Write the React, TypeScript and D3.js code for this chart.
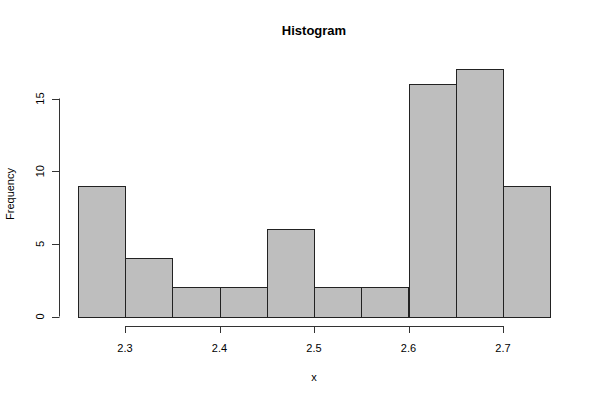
import React from "react";
import * as d3 from "d3";

const binStarts = [2.25, 2.3, 2.35, 2.4, 2.45, 2.5, 2.55, 2.6, 2.65, 2.7];
const binWidth = 0.05;
const counts = [9, 4, 2, 2, 6, 2, 2, 16, 17, 9];
const xTicks = [2.3, 2.4, 2.5, 2.6, 2.7];
const yTicks = [0, 5, 10, 15];
const title = "Histogram";
const xLabel = "x";
const yLabel = "Frequency";

export default function App() {
  const W = 600, H = 400;
  const x = d3.scaleLinear().domain([2.3, 2.7]).range([125, 503]);
  const y = d3.scaleLinear().domain([0, 15]).range([316.5, 98.5]);
  const font = "'Liberation Sans', Arial, Helvetica, sans-serif";
  return (
    <svg width={W} height={H} style={{ position: "absolute", left: 0, top: 0, background: "#fff" }} fontFamily={font}>
      <text x={314} y={35} textAnchor="middle" fontSize={13} fontWeight="bold">{title}</text>
      {counts.map((c, i) => (
        <rect key={i}
          x={Math.round(x(binStarts[i])) + 0.5}
          y={Math.round(y(c)) + 0.5}
          width={Math.round(x(binStarts[i] + binWidth)) - Math.round(x(binStarts[i]))}
          height={Math.round(y(0)) - Math.round(y(c))}
          fill="#bebebe" stroke="#222" strokeWidth={1} />
      ))}
      {/* x axis */}
      <line x1={x(xTicks[0])} x2={x(xTicks[xTicks.length - 1])} y1={326.5} y2={326.5} stroke="#333" />
      {xTicks.map((t) => (
        <g key={t}>
          <line x1={Math.round(x(t)) + 0.5} x2={Math.round(x(t)) + 0.5} y1={326} y2={333} stroke="#333" />
          <text x={x(t)} y={352} textAnchor="middle" fontSize={11}>{d3.format(".1f")(t)}</text>
        </g>
      ))}
      <text x={314} y={381} textAnchor="middle" fontSize={11}>{xLabel}</text>
      {/* y axis */}
      <line x1={59.5} x2={59.5} y1={y(0)} y2={y(15)} stroke="#333" />
      {yTicks.map((t) => (
        <g key={t}>
          <line x1={52} x2={59.5} y1={Math.round(y(t)) + 0.5} y2={Math.round(y(t)) + 0.5} stroke="#333" />
          <text transform={`translate(44,${y(t)}) rotate(-90)`} textAnchor="middle" fontSize={11}>{t}</text>
        </g>
      ))}
      <text transform={`translate(14,${194}) rotate(-90)`} textAnchor="middle" fontSize={11}>{yLabel}</text>
    </svg>
  );
}
